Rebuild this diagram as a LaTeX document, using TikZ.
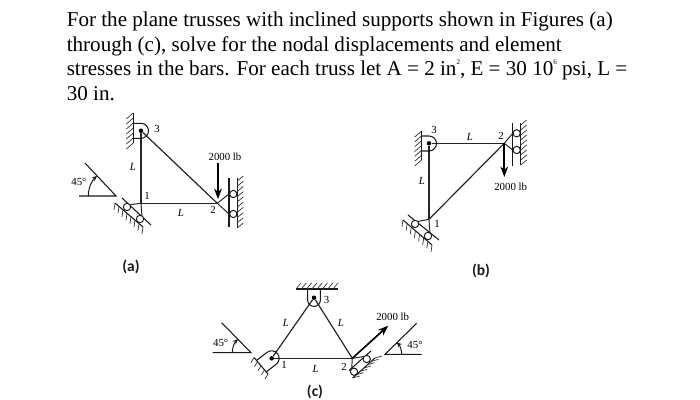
\documentclass[tikz,border=0pt]{standalone}
\usepackage{fontspec}
\setmainfont{Liberation Serif}
\newfontfamily\capfont{Carlito}
\usetikzlibrary{calc}
\usetikzlibrary{arrows.meta}
\tikzset{
    joint/.style = {coordinate},
    pindot/.style = {circle, fill=black, inner sep=0pt, minimum size=3.2pt},
    roller/.style = {circle, draw=black!90, fill=white, line width=0.7pt, inner sep=0pt, minimum size=5.2pt},
    bar/.style = {-, line width=0.85pt, black!85},
    link/.style = {-, line width=0.7pt, black!85},
    wall/.style = {-, line width=0.75pt, black!90},
    hatch/.style = {-, line width=0.5pt, black!80},
    load/.style = {-{Stealth[length=7.5pt,width=5.5pt]}, line width=1.2pt, black},
    angarrow/.style = {-{Stealth[length=4pt,width=3.2pt]}, line width=0.7pt, black!90},
    para/.style = {anchor=base west, inner sep=0pt, font=\fontsize{15}{18}\selectfont, black},
    lab/.style = {inner sep=0pt, font=\fontsize{7.7}{9}\selectfont, black},
    figlab/.style = {inner sep=0pt, font=\capfont\bfseries\fontsize{11}{13}\selectfont, black!90}
}
\newcommand{\hatchlines}[4]{\foreach \k in {0,...,#3}{\draw[hatch] ($#1!\k/#3!#2$) -- ++#4;}}
\newcommand{\tinysup}[1]{\raisebox{1.2ex}{\fontsize{5}{5}\selectfont #1}}
\begin{document}
\begin{tikzpicture}[x=0.025cm,y=-0.025cm]
\useasboundingbox (0,0) rectangle (700,400);
% problem text
\node[para] at (66.5,27) (line1) {For the plane trusses with inclined supports shown in Figures (a)};
\node[para] at (66.5,52) (line2) {through (c), solve for the nodal displacements and element};
\node[para] at (66.5,76) (line3) {stresses in the bars. For each truss let A = 2 in\tinysup{2}, E = 30 10\tinysup{6} psi, L =};
\node[para] at (66.5,100.5) (line4) {30 in.};
%
% figure a
\node[joint] at (141,203.3) (a1) {};
\node[joint] at (217.3,203.3) (a2) {};
\node[pindot] at (141,130.7) (a3) {};
\coordinate (a2t) at (229,194);
\coordinate (a2b) at (229,214);
\coordinate (a1t) at (130.5,204.6);
\coordinate (a1b) at (142,216.6);
\coordinate (a2f) at (218,163);
%
\draw[bar] (a1) edge node {} (a3);
\draw[bar] (a1) edge node {} (a2);
\draw[bar] (a3) edge node {} (a2);
\draw[link] (a2) -- (a2t);
\draw[link] (a2) -- (a2b);
\draw[link] (a1) -- (a1t);
\draw[link] (a1) -- (a1b);
\draw[load,shorten >=3pt] (a2f) -- (a2f|-a2);
%
\draw[wall] (133.3,113) -- (133.3,143);
\hatchlines{(133.3,113)}{(133.3,143)}{6}{(-7,6)}
\draw[wall] (133.3,123.3) -- (141,123.3) arc[start angle=-90,end angle=90,radius=7.5] -- (133.3,138.3);
\draw[wall] (229,178) -- (229,227);
\draw[wall] (237.3,178) -- (237.3,228);
\hatchlines{(237.3,181)}{(237.3,228)}{9}{(6,-5)}
\node[roller] at (233.3,194) (a2r1) {};
\node[roller] at (233.3,214) (a2r2) {};
\draw[wall] (122,198) -- (151,225);
\draw[wall] (115,203) -- (143,227);
\hatchlines{(115,203)}{(143,227)}{7}{(-1,7)}
\node[roller] at (127,207) (a1r1) {};
\node[roller] at (140,219) (a1r2) {};
%
\draw[wall] (85,163) -- (116,196) -- (79,196);
\draw[angarrow] (88.3,196) arc[start angle=180,end angle=227,radius=27.7];
%
\node[lab] at (157,129) (a3l) {3};
\node[lab] at (147,196) (a1l) {1};
\node[lab] at (213,210) (a2l) {2};
\node[lab] at (133,167) (aL1) {\textit{L}};
\node[lab] at (181,213) (aL2) {\textit{L}};
\node[lab] at (225,157) (aF) {2000 lb};
\node[lab] at (79,182) (aA) {45\textdegree};
\node[figlab] at (131,267) (acap) {(a)};
%
% figure b
\node[joint] at (429,219.3) (b1) {};
\node[joint] at (504.3,143.3) (b2) {};
\node[pindot] at (429,143.3) (b3) {};
\coordinate (b2t) at (512.7,133.3);
\coordinate (b2b) at (512.7,150);
\coordinate (b1t) at (417.5,221.5);
\coordinate (b1b) at (430,233.5);
\coordinate (b2f) at (504.3,177);
%
\draw[bar] (b1) edge node {} (b3);
\draw[bar] (b3) edge node {} (b2);
\draw[bar] (b1) edge node {} (b2);
\draw[link] (b2) -- (b2t);
\draw[link] (b2) -- (b2b);
\draw[link] (b1) -- (b1t);
\draw[link] (b1) -- (b1b);
\draw[load] (b2) -- (b2f);
%
\draw[wall] (421.7,131) -- (421.7,160);
\hatchlines{(421.7,131)}{(421.7,160)}{6}{(-7,6)}
\draw[wall] (421.7,136) -- (429,136) arc[start angle=-90,end angle=90,radius=7.5] -- (421.7,151);
\draw[wall] (512.7,123) -- (512.7,166);
\draw[wall] (520.7,123) -- (520.7,165);
\hatchlines{(520.7,125)}{(520.7,165)}{8}{(6,-5)}
\node[roller] at (516.7,133.3) (b2r1) {};
\node[roller] at (516.7,150) (b2r2) {};
\draw[wall] (408,215) -- (439,240);
\draw[wall] (403,220) -- (432,245);
\hatchlines{(403,220)}{(432,245)}{7}{(-1,7)}
\node[roller] at (415,224) (b1r1) {};
\node[roller] at (428,236) (b1r2) {};
%
\node[lab] at (434,130) (b3l) {3};
\node[lab] at (437,224) (b1l) {1};
\node[lab] at (501,136) (b2l) {2};
\node[lab] at (422,181) (bL1) {\textit{L}};
\node[lab] at (470,137) (bL2) {\textit{L}};
\node[lab] at (510.7,187) (bF) {2000 lb};
\node[figlab] at (481,271) (bcap) {(b)};
%
% figure c
\node[pindot] at (271.7,358.3) (c1) {};
\node[joint] at (352.3,358.3) (c2) {};
\node[pindot] at (314,297.7) (c3) {};
\coordinate (c2t) at (364.4,356.4);
\coordinate (c2b) at (351.7,369);
\coordinate (c2f) at (388.3,325.7);
%
\draw[bar] (c1) edge node {} (c3);
\draw[bar] (c3) edge node {} (c2);
\draw[bar] (c1) edge node {} (c2);
\draw[link] (c2) -- (c2t);
\draw[link] (c2) -- (c2b);
\draw[load] (c2) -- (c2f);
%
\draw[wall] (296,289) -- (338,289);
\hatchlines{(296,289)}{(333,289)}{7}{(5,-6)}
\draw[wall] (307.6,289) -- (307.6,300) arc[start angle=180,end angle=0,radius=6.4] -- (320.4,289);
\draw[wall] (254,357.5) -- (268,374);
\hatchlines{(254,357.5)}{(268,374)}{4}{(-3,5)}
\draw[wall] (256.7,360.3) -- (267.1,352.3) arc[start angle=-127.4,end angle=52.6,radius=7.5] -- (265.9,372.2);
\draw[wall] (349,370.5) -- (371,351);
\draw[wall] (352.7,378) -- (375,358);
\hatchlines{(352.7,378)}{(375,358)}{6}{(7,-2)}
\node[roller] at (366.7,359) (c2r1) {};
\node[roller] at (354,371.7) (c2r2) {};
%
\draw[wall] (221.7,322.7) -- (251,352.7) -- (212.7,352.7);
\draw[angarrow] (232.3,352.7) arc[start angle=180,end angle=227,radius=18.7];
\draw[wall] (416.7,323.3) -- (385,354.3) -- (421.7,354.3);
\draw[angarrow] (401.7,354.3) arc[start angle=0,end angle=-47,radius=16.7];
%
\node[lab] at (326.7,300) (c3l) {3};
\node[lab] at (284,365) (c1l) {1};
\node[lab] at (344,367) (c2l) {2};
\node[lab] at (286,323) (cL1) {\textit{L}};
\node[lab] at (341,323) (cL2) {\textit{L}};
\node[lab] at (315.7,369) (cL3) {\textit{L}};
\node[lab] at (392.7,316.7) (cF) {2000 lb};
\node[lab] at (220.7,343.3) (cA1) {45\textdegree};
\node[lab] at (415,345) (cA2) {45\textdegree};
\node[figlab] at (315,392) (ccap) {(c)};
\end{tikzpicture}
\end{document}
